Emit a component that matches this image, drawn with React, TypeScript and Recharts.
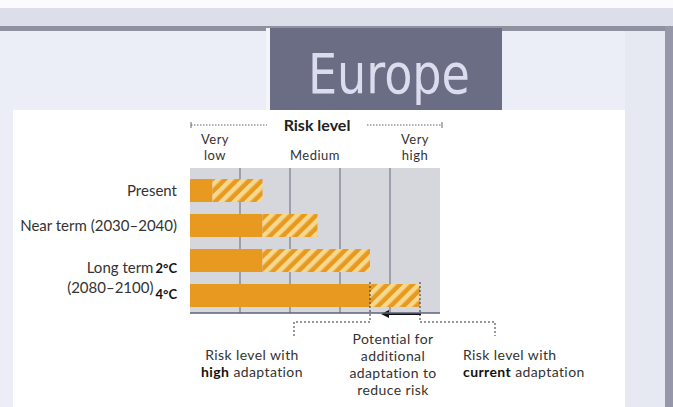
import React from 'react';
import { BarChart, Bar, XAxis, YAxis, CartesianGrid } from 'recharts';

// risk-level columns along the top axis
const levelTicks = [0.5, 2.5, 4.5];
const levelLabels = [['Very', 'low'], ['Medium'], ['Very', 'high']];
const columnEdges = [1, 2, 3, 4];

// rows of the chart
const periods = ['Present', 'Near term (2030–2040)', 'Long term', '(2080–2100)'];
const scenarios = ['', '', '2°C', '4°C'];
const highAdaptation = [0.45, 1.45, 1.45, 3.6];
const currentAdaptation = [1.45, 2.55, 3.6, 4.6];

const rows = periods.map((p, i) => ({
  key: `row${i}`,
  high: highAdaptation[i],
  extra: +(currentAdaptation[i] - highAdaptation[i]).toFixed(2),
}));

const ORANGE = '#e8991f';
const TEXT = '#333';
const FONT = 'Lato, "Open Sans", sans-serif';

const LevelTick = (props: any) => {
  const { x, y, payload } = props;
  const i = levelTicks.indexOf(payload.value);
  const lines = levelLabels[i] || [];
  const n = lines.length;
  return (
    <text x={x} y={y} textAnchor="middle" fontSize={13} letterSpacing={0.5} fill={TEXT} fontFamily={FONT}>
      {lines.map((l, k) => (
        <tspan key={k} x={x} y={y - 8 - (n - 1 - k) * 15.6}>
          {l}
        </tspan>
      ))}
    </text>
  );
};

const PeriodTick = (props: any) => {
  const { x, y, index } = props;
  const i = index;
  const right = x - 13;
  let base = y + 5;
  if (i === 2) base = y + 12;
  if (i === 3) base = y - 3;
  return (
    <text x={right} y={base} textAnchor="end" fontSize={15} fill={TEXT} fontFamily={FONT}>
      <tspan>{periods[i]}</tspan>
      {scenarios[i] && (
        <tspan fontWeight="bold" fontSize={13} fill="#111" dx={2} dy={i === 3 ? 6 : 0}>
          {scenarios[i]}
        </tspan>
      )}
    </text>
  );
};

const RiskHeader = (props: any) => {
  const vb = props.viewBox || {};
  const cx = vb.x + vb.width / 2;
  const left = vb.x;
  const rightEnd = vb.x + vb.width;
  const ly = vb.y + 7;
  return (
    <g>
      <line x1={left + 1} y1={ly} x2={cx - 48} y2={ly} stroke="#666" strokeDasharray="1.5 1.5" />
      <line x1={cx + 52} y1={ly} x2={rightEnd + 2} y2={ly} stroke="#666" strokeDasharray="1.5 1.5" />
      <line x1={left + 1} y1={ly - 3} x2={left + 1} y2={ly + 3} stroke="#666" />
      <line x1={rightEnd + 2} y1={ly - 3} x2={rightEnd + 2} y2={ly + 3} stroke="#666" />
      <text x={cx + 2} y={vb.y + 13} textAnchor="middle" fontSize={16} fontWeight="bold" fill="#222" fontFamily={FONT}>
        Risk level
      </text>
    </g>
  );
};

const HatchBar = (props: any) => {
  const { x, y, width, height, index, payload } = props;
  const isLast = index === rows.length - 1 || (payload && payload.key === rows[rows.length - 1].key);
  const xr = x + width;
  const yb = y + height;
  return (
    <g>
      <rect x={x} y={y} width={width} height={height} fill="url(#hatch)" />
      {isLast && (
        <g stroke="#333" strokeWidth={1} fill="none">
          <path d={`M${x},${y - 2} V${yb + 15} H${x - 76} V${yb + 29}`} strokeDasharray="2 2" />
          <path d={`M${xr},${y - 2} V${yb + 15} H${xr + 75} V${yb + 29}`} strokeDasharray="2 2" />
          <line x1={xr + 1} y1={yb + 7} x2={x + 16} y2={yb + 7} strokeWidth={2} stroke="#111" />
          <polygon points={`${x + 11},${yb + 7} ${x + 19},${yb + 3} ${x + 19},${yb + 11}`} fill="#111" stroke="none" />
        </g>
      )}
    </g>
  );
};

const abs = (s: React.CSSProperties): React.CSSProperties => ({ position: 'absolute', ...s });

const noteStyle: React.CSSProperties = {
  position: 'absolute',
  fontFamily: FONT,
  fontSize: 14,
  letterSpacing: 0.4,
  color: TEXT,
  lineHeight: '17px',
  whiteSpace: 'nowrap',
};

export default function App() {
  return (
    <div style={abs({ left: 0, top: 0, width: 673, height: 407, overflow: 'hidden', background: '#eceef7' })}>
      {/* frame of the page */}
      <div style={abs({ left: 0, top: 0, width: 673, height: 8, background: '#fbfbfd' })} />
      <div style={abs({ left: 0, top: 8, width: 673, height: 18, background: '#dcdfe9' })} />
      <div style={abs({ left: 0, top: 26, width: 673, height: 5, background: '#8f919f' })} />
      <div style={abs({ left: 665, top: 26, width: 8, height: 381, background: '#9698a9' })} />
      <div style={abs({ left: 625, top: 31, width: 40, height: 376, background: '#e6e8f2' })} />
      <div style={abs({ left: 13, top: 110, width: 612, height: 297, background: '#ffffff' })} />
      {/* title box */}
      <div style={abs({ left: 266, top: 28, width: 4, height: 82, background: '#f4f5fb' })} />
      <div style={abs({ left: 270, top: 28, width: 232, height: 82, background: '#6b6d85' })} />
      <svg style={abs({ left: 270, top: 28, overflow: 'visible' })} width={232} height={82}>
        <text
          x={38}
          y={65}
          fontSize={56}
          fill="#dcdcef"
          fontFamily='"Liberation Sans Narrow", "DejaVu Sans Condensed", sans-serif'
          textLength={162}
          lengthAdjust="spacingAndGlyphs"
        >
          Europe
        </text>
      </svg>

      <div style={abs({ left: 0, top: 0 })}>
        <BarChart
          width={673}
          height={407}
          layout="vertical"
          data={rows}
          barSize={23}
          margin={{ top: 118, right: 233, bottom: 93, left: 0 }}
        >
          <defs>
            <pattern id="hatch" patternUnits="userSpaceOnUse" width={9} height={9} patternTransform="rotate(45)">
              <rect x={0} y={0} width={9} height={9} fill={ORANGE} />
              <rect x={0} y={0} width={4.5} height={9} fill="#f7d88f" />
            </pattern>
          </defs>
          <CartesianGrid
            xAxisId="risk"
            fill="#d6d7dd"
            horizontal={false}
            vertical
            verticalValues={columnEdges}
            stroke="#8a8d99"
            strokeWidth={1.5}
          />
          <XAxis
            xAxisId="risk"
            type="number"
            orientation="top"
            domain={[0, 5]}
            ticks={levelTicks}
            height={50}
            axisLine={false}
            tickLine={false}
            tickSize={0}
            tickMargin={0}
            interval={0}
            tick={<LevelTick />}
            label={{ content: <RiskHeader /> }}
          />
          <XAxis
            xAxisId="base"
            type="number"
            orientation="bottom"
            domain={[0, 5]}
            ticks={columnEdges}
            height={1}
            axisLine={{ stroke: '#5d627c', strokeWidth: 1.5 }}
            tickLine={{ stroke: '#5d627c' }}
            tickSize={3}
            tick={false}
          />
          <YAxis
            type="category"
            dataKey="key"
            width={190}
            axisLine={false}
            tickLine={false}
            tickSize={0}
            tickMargin={0}
            padding={{ top: 5, bottom: 0 }}
            interval={0}
            tick={<PeriodTick />}
          />
          <Bar xAxisId="risk" dataKey="high" stackId="a" fill={ORANGE} isAnimationActive={false} />
          <Bar xAxisId="risk" dataKey="extra" stackId="a" shape={<HatchBar />} isAnimationActive={false} />
        </BarChart>
      </div>

      <div style={{ ...noteStyle, left: 180, top: 346, width: 144, textAlign: 'center' }}>
        Risk level with
        <br />
        <b style={{ color: '#111' }}>high</b> adaptation
      </div>
      <div style={{ ...noteStyle, left: 328, top: 330, width: 130, textAlign: 'center' }}>
        Potential for
        <br />
        additional
        <br />
        adaptation to
        <br />
        reduce risk
      </div>
      <div style={{ ...noteStyle, left: 463, top: 346 }}>
        Risk level with
        <br />
        <b style={{ color: '#111' }}>current</b> adaptation
      </div>
    </div>
  );
}
